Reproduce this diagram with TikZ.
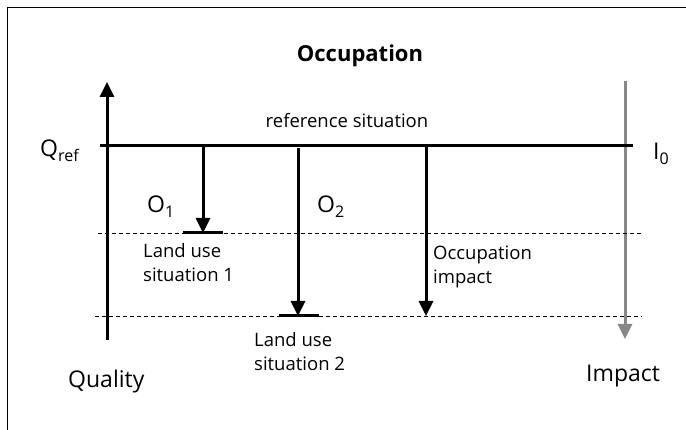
\documentclass[tikz,border=0pt]{standalone}
\usepackage{fontspec}
\setmainfont{Open Sans}
\usetikzlibrary{arrows.meta}
\tikzset{
  axe/.style={line width=3pt,-{Triangle[length=15pt,width=14pt]}},
  palier/.style={line width=3pt},
  seuil/.style={line width=0.9pt,dash pattern=on 4pt off 3pt},
  petit/.style={font=\fontsize{18.5}{24}\selectfont,inner sep=0pt,align=left},
  grand/.style={font=\fontsize{23}{27}\selectfont,inner sep=0pt}
}
\newcommand{\indice}[1]{\raisebox{-0.35ex}{\fontsize{16}{16}\selectfont #1}}

\begin{document}
\begin{tikzpicture}[x=1pt,y=-1pt]
\useasboundingbox (0,0) rectangle (686,430);
%cadre
\draw[line width=1pt] (7,430) -- (7,8) -- (686,8);
%axes
\coordinate (qbas) at (107,340);
\coordinate (qhaut) at (107,82);
\draw[axe] (qbas) -- (qhaut);
\coordinate (ihaut) at (625,81);
\coordinate (ibas) at (625,339);
\draw[axe,black!47] (ihaut) -- (ibas);
%situation de reference
\coordinate (refg) at (100,146);
\coordinate (refd) at (633,146);
\draw[palier] (refg) -- (refd);
%seuils
\coordinate (s1g) at (98,233);
\coordinate (s1d) at (643,233);
\coordinate (s2g) at (95,316);
\coordinate (s2d) at (642,316);
\draw[seuil] (s1g) -- (s1d);
\draw[seuil] (s2g) -- (s2d);
%paliers
\coordinate (p1g) at (183,233);
\coordinate (p1d) at (223,233);
\coordinate (p2g) at (279,316);
\coordinate (p2d) at (319,316);
\draw[palier] (p1g) -- (p1d);
\draw[palier] (p2g) -- (p2d);
%fleches
\coordinate (o1h) at (203,146);
\coordinate (o1b) at (203,233);
\coordinate (o2h) at (298,148);
\coordinate (o2b) at (298,316);
\coordinate (oih) at (426,146);
\coordinate (oib) at (426,316);
\draw[axe] (o1h) -- (o1b);
\draw[axe] (o2h) -- (o2b);
\draw[axe] (oih) -- (oib);
%textes
\node[font=\fontsize{22}{26}\selectfont\bfseries,inner sep=0pt,anchor=base] (titre) at (360,62) {Occupation};
\node[petit,anchor=base] (refsit) at (347,128) {reference situation};
\node[grand,anchor=base west] (qref) at (40,157) {Q\indice{ref}};
\node[grand,anchor=base west] (izero) at (653,160) {I\indice{0}};
\node[grand,anchor=base west] (o1) at (147,213) {O\indice{1}};
\node[grand,anchor=base west] (o2) at (317,213) {O\indice{2}};
\node[petit,anchor=north west] (lu1) at (143,243) {Land use\\situation 1};
\node[petit,anchor=north west] (lu2) at (254,332) {Land use\\situation 2};
\node[petit,anchor=north west] (occimp) at (433,246) {Occupation\\impact};
\node[grand,anchor=base west] (qualite) at (68,388) {Quality};
\node[grand,anchor=base west] (impact) at (586,382) {Impact};
\end{tikzpicture}
\end{document}
